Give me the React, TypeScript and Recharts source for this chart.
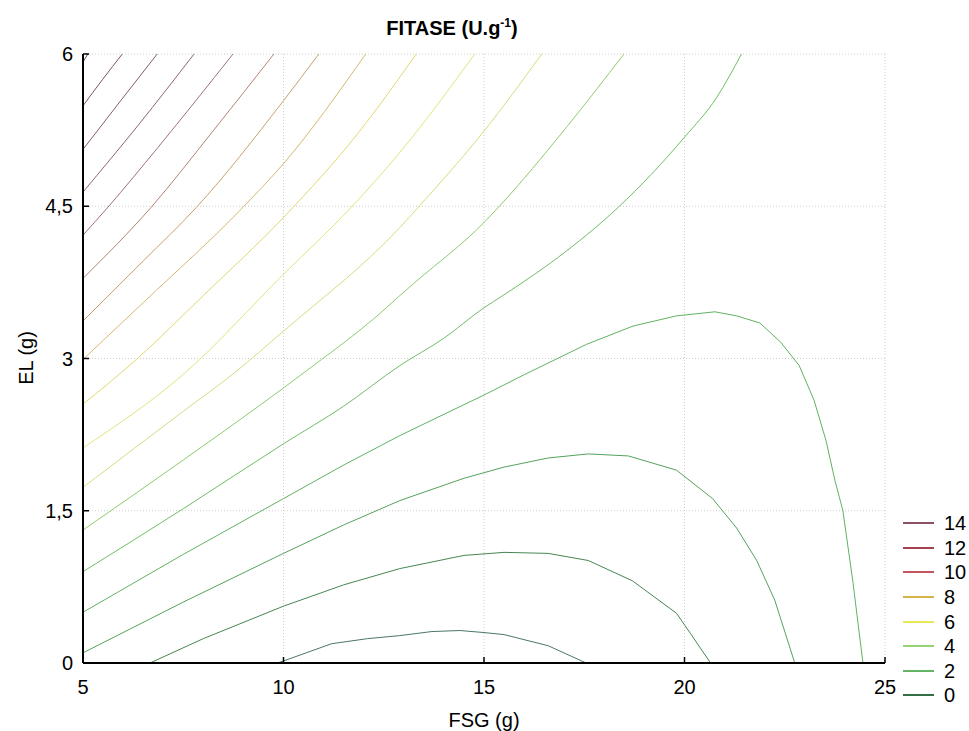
import React from 'react';
import { LineChart, Line, XAxis, YAxis, CartesianGrid } from 'recharts';

// Axis ticks
const X_TICKS = [5, 10, 15, 20, 25];
const Y_TICKS = [0, 1.5, 3, 4.5, 6];
const X_MINOR_TICKS = [7.5, 10, 12.5, 15, 17.5, 20, 22.5];
const Y_MINOR_TICKS = [0.75, 1.5, 2.25, 3, 3.75, 4.5, 5.25];

// Contour lines (FSG, EL), innermost (lowest) first
const line01 = [
  { x: 9.84, y: 0 }, { x: 10, y: 0.02 }, { x: 11.2, y: 0.19 }, { x: 12.1, y: 0.24 },
  { x: 12.9, y: 0.27 }, { x: 13.7, y: 0.31 }, { x: 14.4, y: 0.32 }, { x: 15, y: 0.3 },
  { x: 15.5, y: 0.28 }, { x: 16.6, y: 0.17 }, { x: 17.55, y: 0 },
];
const line02 = [
  { x: 6.67, y: 0 }, { x: 8, y: 0.24 }, { x: 10, y: 0.56 }, { x: 11.5, y: 0.77 },
  { x: 12.9, y: 0.93 }, { x: 14.5, y: 1.06 }, { x: 15.5, y: 1.09 }, { x: 16.6, y: 1.08 },
  { x: 17.6, y: 1.01 }, { x: 18.7, y: 0.81 }, { x: 19.8, y: 0.49 }, { x: 20.15, y: 0.29 },
  { x: 20.65, y: 0 },
];
const line03 = [
  { x: 5, y: 0.1 }, { x: 7.5, y: 0.6 }, { x: 10, y: 1.08 }, { x: 11.5, y: 1.36 },
  { x: 12.9, y: 1.6 }, { x: 14.5, y: 1.82 }, { x: 15.5, y: 1.93 }, { x: 16.6, y: 2.02 },
  { x: 17.6, y: 2.06 }, { x: 18.6, y: 2.04 }, { x: 19.8, y: 1.9 }, { x: 20.7, y: 1.62 },
  { x: 21.3, y: 1.33 }, { x: 21.8, y: 1.01 }, { x: 22.25, y: 0.62 }, { x: 22.75, y: 0 },
];
const line04 = [
  { x: 5, y: 0.5 }, { x: 7.5, y: 1.07 }, { x: 10, y: 1.62 }, { x: 11.5, y: 1.95 },
  { x: 12.9, y: 2.24 }, { x: 14, y: 2.45 }, { x: 15, y: 2.64 }, { x: 16, y: 2.84 },
  { x: 17.56, y: 3.14 }, { x: 18.72, y: 3.32 }, { x: 19.8, y: 3.42 }, { x: 20.76, y: 3.46 },
  { x: 21.3, y: 3.42 }, { x: 21.88, y: 3.35 }, { x: 22.4, y: 3.16 }, { x: 22.86, y: 2.93 },
  { x: 23.23, y: 2.59 }, { x: 23.53, y: 2.19 }, { x: 23.75, y: 1.8 }, { x: 23.95, y: 1.5 },
  { x: 24.2, y: 0.8 }, { x: 24.45, y: 0 },
];
const line05 = [
  { x: 5, y: 0.9 }, { x: 7.5, y: 1.52 }, { x: 10, y: 2.16 }, { x: 11.5, y: 2.53 },
  { x: 12.9, y: 2.93 }, { x: 14, y: 3.2 }, { x: 15, y: 3.5 }, { x: 15.47, y: 3.62 },
  { x: 17.06, y: 4.06 }, { x: 18.35, y: 4.49 }, { x: 20, y: 5.18 }, { x: 20.8, y: 5.57 },
  { x: 21.42, y: 6 },
];
const line06 = [
  { x: 5, y: 1.31 }, { x: 7.5, y: 2.0 }, { x: 10, y: 2.71 }, { x: 10.44, y: 2.84 },
  { x: 12.48, y: 3.47 }, { x: 12.9, y: 3.62 }, { x: 13.31, y: 3.76 }, { x: 15, y: 4.34 },
  { x: 15.36, y: 4.49 }, { x: 17.06, y: 5.28 }, { x: 18.49, y: 6 },
];
const line07 = [
  { x: 5, y: 1.73 }, { x: 7.5, y: 2.48 }, { x: 8.78, y: 2.86 }, { x: 10, y: 3.27 },
  { x: 12.9, y: 4.29 }, { x: 13.36, y: 4.49 }, { x: 15, y: 5.24 }, { x: 16.44, y: 6 },
];
const line08 = [
  { x: 5, y: 2.12 }, { x: 7.49, y: 2.84 }, { x: 10, y: 3.83 },
  { x: 11.69, y: 4.49 }, { x: 12.9, y: 5.03 }, { x: 14.77, y: 6 },
];
const line09 = [
  { x: 5, y: 2.55 }, { x: 6.33, y: 2.99 }, { x: 8, y: 3.62 }, { x: 10, y: 4.39 },
  { x: 11.9, y: 5.24 }, { x: 13.31, y: 6 },
];
const line10 = [
  { x: 5, y: 2.99 }, { x: 6.5, y: 3.55 }, { x: 8.99, y: 4.49 }, { x: 10, y: 4.92 },
  { x: 12.05, y: 6 },
];
const line11 = [
  { x: 5, y: 3.37 }, { x: 6.5, y: 3.96 }, { x: 7.83, y: 4.49 }, { x: 10, y: 5.54 },
  { x: 10.88, y: 6 },
];
const line12 = [
  { x: 5, y: 3.79 }, { x: 6.7, y: 4.49 }, { x: 8.24, y: 5.24 }, { x: 9.76, y: 6 },
];
const line13 = [
  { x: 5, y: 4.215 }, { x: 5.62, y: 4.49 }, { x: 6.87, y: 5.08 }, { x: 8.74, y: 6 },
];
const line14 = [{ x: 5, y: 4.64 }, { x: 6.38, y: 5.3 }, { x: 7.77, y: 6 }];
const line15 = [{ x: 5, y: 5.06 }, { x: 5.92, y: 5.53 }, { x: 6.85, y: 6 }];
const line16 = [{ x: 5, y: 5.49 }, { x: 5.49, y: 5.75 }, { x: 5.98, y: 6 }];
const line17 = [{ x: 5, y: 5.92 }, { x: 5.12, y: 6 }];

const CONTOURS = [
  { name: 'c01', data: line01, color: '#4a7868', curve: 'linear' },
  { name: 'c02', data: line02, color: '#468652', curve: 'linear' },
  { name: 'c03', data: line03, color: '#56a25c', curve: 'linear' },
  { name: 'c04', data: line04, color: '#62b262', curve: 'linear' },
  { name: 'c05', data: line05, color: '#70bd66', curve: 'monotoneX' },
  { name: 'c06', data: line06, color: '#8ecb6e', curve: 'monotoneX' },
  { name: 'c07', data: line07, color: '#cfe07e', curve: 'monotoneX' },
  { name: 'c08', data: line08, color: '#e2e47e', curve: 'monotoneX' },
  { name: 'c09', data: line09, color: '#e2d870', curve: 'monotoneX' },
  { name: 'c10', data: line10, color: '#d8b870', curve: 'monotoneX' },
  { name: 'c11', data: line11, color: '#c8a072', curve: 'monotoneX' },
  { name: 'c12', data: line12, color: '#b48474', curve: 'monotoneX' },
  { name: 'c13', data: line13, color: '#a07076', curve: 'monotoneX' },
  { name: 'c14', data: line14, color: '#926474', curve: 'monotoneX' },
  { name: 'c15', data: line15, color: '#885a70', curve: 'monotoneX' },
  { name: 'c16', data: line16, color: '#7e506c', curve: 'monotoneX' },
  { name: 'c17', data: line17, color: '#744866', curve: 'monotoneX' },
];

const LEGEND_LABELS = ['14', '12', '10', '8', '6', '4', '2', '0'];
const LEGEND_COLORS = ['#8c5262', '#a44252', '#c4545c', '#d4b448', '#e8e85a', '#94d274', '#64b466', '#336e46'];

const FONT = '"Liberation Sans", Arial, sans-serif';
const fmt = (v: number) => String(v).replace('.', ',');

export default function App() {
  return (
    <div style={{ position: 'absolute', left: 0, top: 0, width: 969, height: 731, background: '#fff', fontFamily: FONT }}>
      <LineChart width={969} height={731} margin={{ top: 54, right: 84, bottom: 0, left: 23 }}>
        <CartesianGrid stroke="#cfcfcf" strokeDasharray="1 2" />
        <XAxis
          dataKey="x"
          type="number"
          domain={[5, 25]}
          ticks={X_TICKS}
          interval={0}
          allowDataOverflow
          height={68}
          tickSize={-6}
          tickMargin={23}
          axisLine={{ stroke: '#000', strokeWidth: 2 }}
          tickLine={{ stroke: '#000', strokeWidth: 1.5 }}
          tick={{ fill: '#000', fontSize: 20, fontFamily: FONT }}
        />
        <XAxis
          xAxisId="top"
          orientation="top"
          dataKey="x"
          type="number"
          domain={[5, 25]}
          ticks={X_MINOR_TICKS}
          interval={0}
          allowDataOverflow
          height={0}
          tickSize={-6}
          tick={false}
          axisLine={{ stroke: '#000', strokeWidth: 2 }}
          tickLine={{ stroke: '#000', strokeWidth: 1.5 }}
        />
        <YAxis
          type="number"
          domain={[0, 6]}
          ticks={Y_TICKS}
          interval={0}
          allowDataOverflow
          width={60}
          tickSize={-6}
          tickMargin={16}
          tickFormatter={fmt}
          axisLine={{ stroke: '#000', strokeWidth: 2 }}
          tickLine={{ stroke: '#000', strokeWidth: 1.5 }}
          tick={{ fill: '#000', fontSize: 20, fontFamily: FONT }}
        />
        <YAxis
          yAxisId="right"
          orientation="right"
          type="number"
          domain={[0, 6]}
          ticks={Y_MINOR_TICKS}
          interval={0}
          allowDataOverflow
          width={0}
          tickSize={-6}
          tick={false}
          axisLine={{ stroke: '#000', strokeWidth: 2 }}
          tickLine={{ stroke: '#000', strokeWidth: 1.5 }}
        />
        {CONTOURS.map((c) => (
          <Line
            key={c.name}
            name={c.name}
            data={c.data}
            dataKey="y"
            type={c.curve as any}
            stroke={c.color}
            strokeWidth={1}
            dot={false}
            activeDot={false}
            legendType="none"
            isAnimationActive={false}
          />
        ))}
      </LineChart>

      <div style={{ position: 'absolute', left: 0, width: 904, top: 18, textAlign: 'center', fontSize: 20, lineHeight: '20px', fontWeight: 'bold', color: '#000', whiteSpace: 'nowrap' }}>
        FITASE (U.g<sup style={{ fontSize: 12, lineHeight: 0, verticalAlign: 'baseline', position: 'relative', top: -8 }}>-1</sup>)
      </div>
      <div style={{ position: 'absolute', left: 84, width: 800, top: 710, textAlign: 'center', fontSize: 20, lineHeight: '20px', color: '#000' }}>
        FSG (g)
      </div>
      <div style={{ position: 'absolute', left: 26, top: 358, transform: 'translate(-50%, -50%) rotate(-90deg)', fontSize: 20, lineHeight: '20px', color: '#000', whiteSpace: 'nowrap' }}>
        EL (g)
      </div>
      <div style={{ position: 'absolute', left: 903, top: 511 }}>
        {LEGEND_LABELS.map((lab, i) => (
          <div key={lab} style={{ display: 'flex', alignItems: 'center', height: 24.6 }}>
            <div style={{ width: 31, height: 2, background: LEGEND_COLORS[i] }} />
            <span style={{ marginLeft: 10, fontSize: 20, lineHeight: '20px', color: '#000' }}>{lab}</span>
          </div>
        ))}
      </div>
    </div>
  );
}
